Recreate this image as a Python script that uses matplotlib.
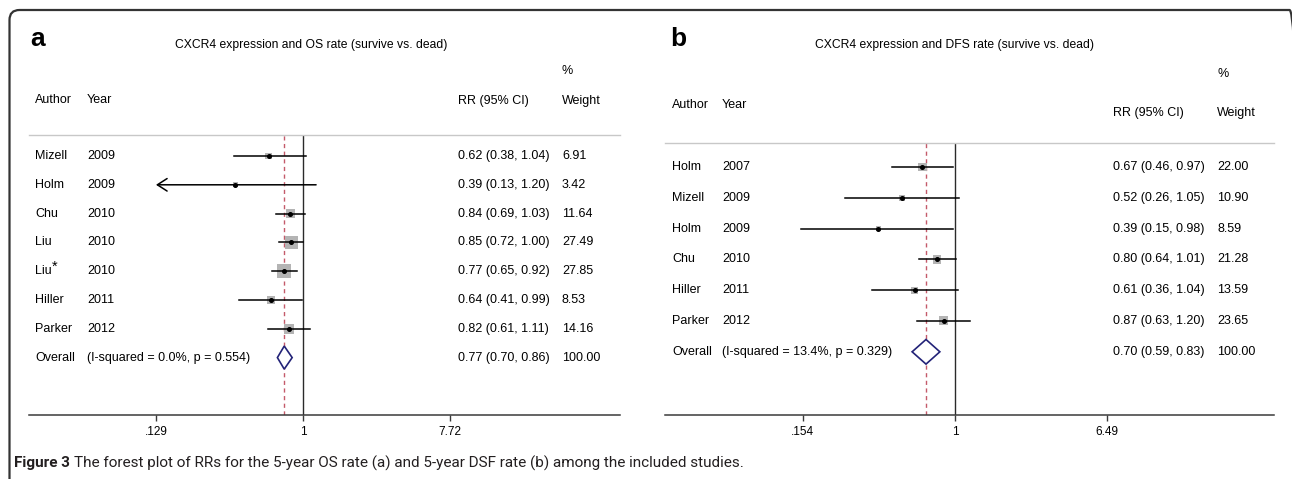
import numpy as np
import matplotlib
matplotlib.use('Agg')
import matplotlib.pyplot as plt
import matplotlib.transforms as mtransforms
from matplotlib.patches import FancyBboxPatch, Polygon

plt.rcParams['font.family'] = ['Liberation Sans', 'DejaVu Sans']

# ---- data: OS rate (panel a) ----
os_author = ['Mizell', 'Holm', 'Chu', 'Liu', 'Liu*', 'Hiller', 'Parker']
os_year = ['2009', '2009', '2010', '2010', '2010', '2011', '2012']
os_rr = [0.62, 0.39, 0.84, 0.85, 0.77, 0.64, 0.82]
os_lo = [0.38, 0.13, 0.69, 0.72, 0.65, 0.41, 0.61]
os_hi = [1.04, 1.20, 1.03, 1.00, 0.92, 0.99, 1.11]
os_weight = [6.91, 3.42, 11.64, 27.49, 27.85, 8.53, 14.16]
os_arrow = [False, True, False, False, False, False, False]
os_overall = [0.77, 0.70, 0.86]
os_het = '(I-squared = 0.0%, p = 0.554)'
os_ticks = [0.129, 1, 7.72]
os_ticklabels = ['.129', '1', '7.72']

# ---- data: DFS rate (panel b) ----
dfs_author = ['Holm', 'Mizell', 'Holm', 'Chu', 'Hiller', 'Parker']
dfs_year = ['2007', '2009', '2009', '2010', '2011', '2012']
dfs_rr = [0.67, 0.52, 0.39, 0.80, 0.61, 0.87]
dfs_lo = [0.46, 0.26, 0.15, 0.64, 0.36, 0.63]
dfs_hi = [0.97, 1.05, 0.98, 1.01, 1.04, 1.20]
dfs_weight = [22.00, 10.90, 8.59, 21.28, 13.59, 23.65]
dfs_arrow = [False] * 6
dfs_overall = [0.70, 0.59, 0.83]
dfs_het = '(I-squared = 13.4%, p = 0.329)'
dfs_ticks = [0.154, 1, 6.49]
dfs_ticklabels = ['.154', '1', '6.49']

W, H = 1292, 479
fig = plt.figure(figsize=(W / 100, H / 100), dpi=100)
renderer = fig.canvas.get_renderer()


def forest(letter, title, author, year, rr, lo, hi, weight, arrow, overall, het,
           ticks, ticklabels, lay):
    x0, x1, ytop, ybot, row0, step, one_px, k = (lay['x0'], lay['x1'], lay['ytop'],
                                                  lay['ybot'], lay['row0'], lay['step'],
                                                  lay['one'], lay['k'])
    ax = fig.add_axes([x0 / W, 1 - ybot / H, (x1 - x0) / W, (ybot - ytop) / H])
    ax.set_xscale('log')
    ax.set_xlim(np.exp((x0 - one_px) / k), np.exp((x1 - one_px) / k))
    ax.set_ylim((ybot - row0) / step, (ytop - row0) / step)
    ax.patch.set_alpha(0)
    for s in ['left', 'right']:
        ax.spines[s].set_visible(False)
    ax.spines['top'].set_color('#c8c8c8')
    ax.spines['top'].set_linewidth(1.0)
    ax.spines['bottom'].set_color('#3a3a3a')
    ax.spines['bottom'].set_linewidth(1.1)
    ax.set_yticks([])
    ax.set_xticks(ticks)
    ax.set_xticklabels(ticklabels)
    ax.minorticks_off()
    ax.tick_params(axis='x', length=4, width=1, color='#3a3a3a', labelsize=8.5, pad=4)

    n = len(rr)
    ys = np.arange(n)
    wmax = max(weight)
    sides = lay['box'] * np.sqrt(np.array(weight) / wmax) * 0.72
    ax.scatter(rr, ys, marker='s', s=sides ** 2, color='#b4b4b4', lw=0, zorder=2)
    for i in range(n):
        if arrow[i]:
            ax.annotate('', xy=(ticks[0], ys[i]), xytext=(hi[i], ys[i]),
                        arrowprops=dict(arrowstyle='->,head_length=0.7,head_width=0.45',
                                        lw=1.1, color='black', shrinkA=0, shrinkB=0),
                        zorder=3)
        else:
            ax.plot([lo[i], hi[i]], [ys[i], ys[i]], color='black', lw=1.1, zorder=3)
    ax.plot(rr, ys, 'o', color='black', ms=2.6, zorder=4)

    ax.axvline(1, color='#2a2a2a', lw=1.0, zorder=1)
    ax.axvline(overall[0], color='#c45a6a', lw=1.0, ls=(0, (3, 2.5)), zorder=1)
    est, olo, ohi = overall
    dia = Polygon([[olo, n], [est, n - 0.4], [ohi, n], [est, n + 0.4]], closed=True,
                  fill=True, facecolor='white', edgecolor='#232378', lw=1.2, zorder=5)
    ax.add_patch(dia)

    tr = mtransforms.blended_transform_factory(fig.transFigure, ax.transData)
    fs = 9
    for i in range(n):
        name = author[i]
        star = name.endswith('*')
        t = ax.text(lay['cx_author'] / W, ys[i], name.rstrip('*'), transform=tr,
                    fontsize=fs, va='center')
        if star:
            bb = t.get_window_extent(renderer)
            fig.text((bb.x1 + 0.5) / W, (bb.y1 - 2) / H, '*', fontsize=10.5,
                     va='center', ha='left')
        ax.text(lay['cx_year'] / W, ys[i], year[i], transform=tr, fontsize=fs, va='center')
        ax.text(lay['cx_rr'] / W, ys[i], '%.2f (%.2f, %.2f)' % (rr[i], lo[i], hi[i]),
                transform=tr, fontsize=fs, va='center')
        ax.text(lay['cx_w'] / W, ys[i], '%.2f' % weight[i], transform=tr, fontsize=fs, va='center')
    ax.text(lay['cx_author'] / W, n, 'Overall', transform=tr, fontsize=fs, va='center')
    ax.text(lay['cx_year'] / W, n, het, transform=tr, fontsize=fs, va='center')
    ax.text(lay['cx_rr'] / W, n, '%.2f (%.2f, %.2f)' % (est, olo, ohi),
            transform=tr, fontsize=fs, va='center')
    ax.text(lay['cx_w'] / W, n, '100.00', transform=tr, fontsize=fs, va='center')

    def ftext(x, y, s, **kw):
        fig.text(x / W, 1 - y / H, s, va='center', **kw)

    ftext(lay['cx_author'], lay['y_hdr'], 'Author', fontsize=fs)
    ftext(lay['cx_year'], lay['y_hdr'], 'Year', fontsize=fs)
    ftext(lay['cx_rr'], lay['y_cols'], 'RR (95% CI)', fontsize=fs)
    ftext(lay['cx_w'], lay['y_cols'], 'Weight', fontsize=fs)
    ftext(lay['cx_w'], lay['y_pct'], '%', fontsize=fs)
    ftext(lay['x_title'], 45, title, fontsize=8.7)
    ftext(lay['x_letter'], 39, letter, fontsize=19, fontweight='bold')
    return ax


lay_a = dict(x0=29, x1=620, ytop=135, ybot=415, row0=156, step=28.8, one=303, k=71.8,
             box=13.5, cx_author=35, cx_year=87, cx_rr=458, cx_w=562,
             y_hdr=100, y_cols=101, y_pct=71, x_title=175, x_letter=30)
lay_b = dict(x0=665, x1=1274, ytop=143, ybot=415, row0=167, step=30.8, one=955, k=81.3,
             box=9, cx_author=672, cx_year=722, cx_rr=1113, cx_w=1217,
             y_hdr=105, y_cols=113, y_pct=74, x_title=815, x_letter=670)

forest('a', 'CXCR4 expression and OS rate (survive vs. dead)', os_author, os_year, os_rr,
       os_lo, os_hi, os_weight, os_arrow, os_overall, os_het, os_ticks, os_ticklabels, lay_a)
forest('b', 'CXCR4 expression and DFS rate (survive vs. dead)', dfs_author, dfs_year, dfs_rr,
       dfs_lo, dfs_hi, dfs_weight, dfs_arrow, dfs_overall, dfs_het, dfs_ticks, dfs_ticklabels, lay_b)

# rounded frame around the figure (inches from bottom-left)
frame = FancyBboxPatch((0.095, -0.3), 12.9, 4.99,
                       boxstyle='round,pad=0,rounding_size=0.1',
                       transform=fig.dpi_scale_trans, fill=False,
                       edgecolor='#333333', lw=1.6)
fig.add_artist(frame)

# caption
cap_font = ['Roboto', 'Liberation Sans']
t1 = fig.text(14 / W, 1 - 463 / H, 'Figure 3', fontsize=11, fontweight='bold',
              family=cap_font, color='#231f20', va='center')
bb = t1.get_window_extent(renderer)
fig.text((bb.x1 + 4) / W, 1 - 463 / H,
         'The forest plot of RRs for the 5-year OS rate (a) and 5-year DSF rate (b) among the included studies.',
         fontsize=11, family=cap_font, color='#231f20', va='center')

fig.savefig('out.png', dpi=100)
